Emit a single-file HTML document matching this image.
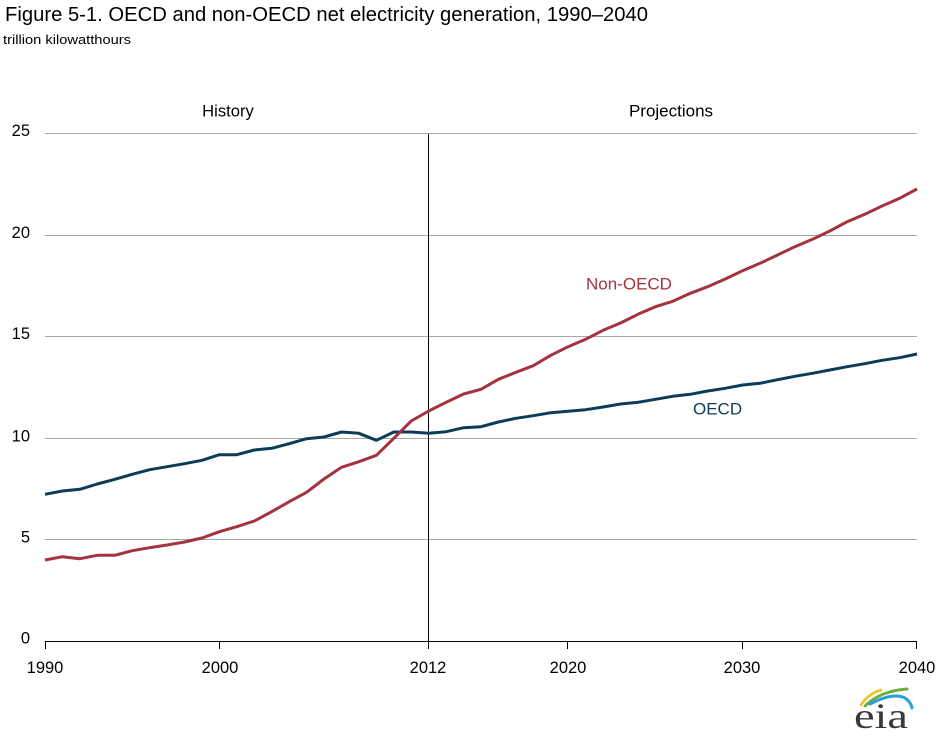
<!DOCTYPE html>
<html>
<head>
<meta charset="utf-8">
<style>
  html,body{margin:0;padding:0;background:#fff;}
  body{width:939px;height:736px;overflow:hidden;}
  svg{display:block;}
  text{font-family:"Liberation Sans", Arial, sans-serif;}
</style>
</head>
<body>
<svg width="939" height="736" viewBox="0 0 939 736" xmlns="http://www.w3.org/2000/svg">
  <!-- Title -->
  <text x="5" y="21" font-size="20" fill="#000" textLength="643" lengthAdjust="spacingAndGlyphs">Figure 5-1. OECD and non-OECD net electricity generation, 1990–2040</text>
  <text x="3" y="44" font-size="13" fill="#000" textLength="128" lengthAdjust="spacingAndGlyphs">trillion kilowatthours</text>

  <!-- Section labels -->
  <text x="228" y="116.5" font-size="16.6" text-anchor="middle" fill="#000">History</text>
  <text x="671" y="116.5" font-size="17" text-anchor="middle" fill="#000">Projections</text>

  <!-- Gridlines -->
  <g stroke="#a6a6a6" stroke-width="1">
    <line x1="45" y1="133.5" x2="917" y2="133.5"/>
    <line x1="45" y1="235.5" x2="917" y2="235.5"/>
    <line x1="45" y1="336.5" x2="917" y2="336.5"/>
    <line x1="45" y1="438.5" x2="917" y2="438.5"/>
    <line x1="45" y1="539.5" x2="917" y2="539.5"/>
  </g>

  <!-- Y labels -->
  <g font-size="16.5" fill="#000" text-anchor="end">
    <text x="30" y="136">25</text>
    <text x="30" y="238">20</text>
    <text x="30" y="339">15</text>
    <text x="30" y="441.5">10</text>
    <text x="30" y="542.5">5</text>
    <text x="30" y="643.5">0</text>
  </g>

  <!-- X axis -->
  <g stroke="#000" stroke-width="1">
    <line x1="45" y1="641.5" x2="917" y2="641.5"/>
    <line x1="45.5" y1="641" x2="45.5" y2="649"/>
    <line x1="219.5" y1="641" x2="219.5" y2="649"/>
    <line x1="567.5" y1="641" x2="567.5" y2="649"/>
    <line x1="742.5" y1="641" x2="742.5" y2="649"/>
    <line x1="916.5" y1="641" x2="916.5" y2="649"/>
    <line x1="428.5" y1="134" x2="428.5" y2="649"/>
  </g>
  <g font-size="16.5" fill="#000" text-anchor="middle">
    <text x="45" y="673">1990</text>
    <text x="220" y="673">2000</text>
    <text x="428" y="673">2012</text>
    <text x="568" y="673">2020</text>
    <text x="742" y="673">2030</text>
    <text x="917" y="673">2040</text>
  </g>

  <!-- Series -->
  <polyline fill="none" stroke="#0d3d56" stroke-width="3" stroke-linejoin="round" points="45,494.3 62.4,491 79.9,489.3 97.3,484 114.8,479.3 132.2,474.3 149.6,469.7 167.1,466.7 184.5,463.7 202,460.3 219.4,454.7 236.8,454.7 254.3,450 271.7,448.3 289.2,443.7 306.6,438.7 324,437 341.5,432 358.9,433.3 376.4,440.3 393.8,432 411.2,432 428.7,433.3 446.1,431.7 463.6,427.7 481,426.7 498.4,422 515.9,418.3 533.3,415.7 550.8,412.7 568.2,411.3 585.6,409.7 603.1,407 620.5,404 638,402.3 655.4,399.3 672.8,396.3 690.3,394.3 707.7,391 725.2,388.3 742.6,385 760,383.3 777.5,379.7 794.9,376.3 812.4,373.3 829.8,370 847.2,366.7 864.7,363.7 882.1,360.3 899.6,357.7 917,354"/>
  <polyline fill="none" stroke="#a5323f" stroke-width="3" stroke-linejoin="round" points="45,560 62.4,556.7 79.9,558.7 97.3,555.3 114.8,555.3 132.2,550.7 149.6,547.7 167.1,545 184.5,542 202,538 219.4,531.7 236.8,526.7 254.3,521 271.7,511.7 289.2,501.7 306.6,492.3 324,479 341.5,467.3 358.9,461.7 376.4,455.3 393.8,438.3 411.2,421 428.7,411 446.1,402.3 463.6,394 481,389.3 498.4,379.3 515.9,372.3 533.3,365.7 550.8,355.3 568.2,346.7 585.6,339.3 603.1,330.3 620.5,323 638,314.3 655.4,306.7 672.8,301.3 690.3,293.3 707.7,286.7 725.2,279 742.6,270.7 760,263.3 777.5,255 794.9,246.7 812.4,239.3 829.8,231 847.2,221.7 864.7,214.3 882.1,206 899.6,198.3 917,189"/>

  <!-- Series labels -->
  <text x="586" y="289.5" font-size="17" fill="#a5323f">Non-OECD</text>
  <text x="693" y="414.5" font-size="17" fill="#0d3d56">OECD</text>

  <!-- EIA logo -->
  <g fill="none" stroke-linecap="round">
    <path d="M861,705 Q868,694 881,690" stroke="#f2c318" stroke-width="2.5"/>
    <path d="M865,706 Q880,691 907,689" stroke="#6fae3e" stroke-width="3"/>
    <path d="M870,704 Q893,692 905,698 Q911,702 912,708" stroke="#27a0d8" stroke-width="3"/>
  </g>
  <text x="854" y="728" style="font-family:'Liberation Serif','Times New Roman',serif" font-size="36" fill="#3a3a3a" textLength="54" lengthAdjust="spacingAndGlyphs">eia</text>
</svg>
</body>
</html>
